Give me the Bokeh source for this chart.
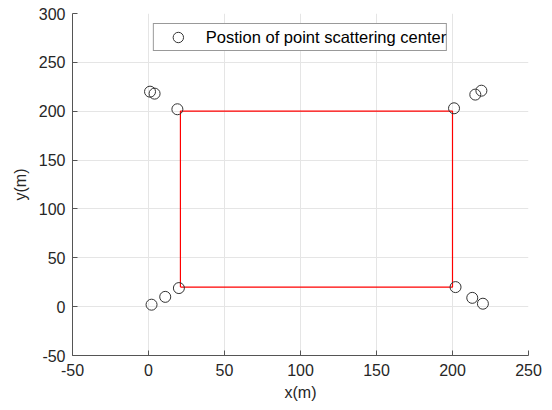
from bokeh.plotting import figure
from bokeh.models import Range1d, FixedTicker, Legend, LegendItem
from bokeh.embed import file_html
from bokeh.resources import INLINE

# Point scattering centers (m)
pts_x = [1, 4, 19, 201, 215, 219, 2, 11, 20, 202, 213, 220]
pts_y = [220, 218, 202, 203, 217, 221, 2, 10, 19, 20, 9, 3]

# Red rectangle outline (m)
rect_x = [21, 200, 200, 21, 21]
rect_y = [20, 20, 200, 200, 20]

x_ticks = [-50, 0, 50, 100, 150, 200, 250]
y_ticks = [-50, 0, 50, 100, 150, 200, 250, 300]

FONT = "Liberation Sans"
TXT = "#262626"

p = figure(width=552, height=410, output_backend="svg", toolbar_location=None,
           x_range=Range1d(-50, 250), y_range=Range1d(-50, 300),
           min_border_left=72, min_border_right=24, min_border_top=13, min_border_bottom=55)
p.outline_line_color = None
p.background_fill_color = "white"

p.line(rect_x, rect_y, line_color="#ff0000", line_width=1.2)
r = p.scatter(pts_x, pts_y, marker="circle", size=11, fill_color=None,
              line_color="#333333", line_width=1)

for ax, ticks in ((p.xaxis[0], x_ticks), (p.yaxis[0], y_ticks)):
    ax.ticker = FixedTicker(ticks=ticks)
    ax.major_label_overrides = {t: str(t) for t in ticks}
    ax.major_label_text_font = FONT
    ax.major_label_text_font_size = "16px"
    ax.major_label_text_color = TXT
    ax.axis_label_text_font = FONT
    ax.axis_label_text_font_size = "16px"
    ax.axis_label_text_font_style = "normal"
    ax.axis_label_text_color = TXT
    ax.axis_line_color = "#555555"
    ax.major_tick_line_color = "#555555"
    ax.major_tick_in = 5
    ax.major_tick_out = 0
    ax.minor_tick_line_color = None

p.xaxis.axis_label = "x(m)"
p.yaxis.axis_label = "y(m)"
p.xaxis.major_label_standoff = 8
p.xaxis.axis_label_standoff = 5
p.yaxis.major_label_standoff = 7
p.yaxis.axis_label_standoff = 7

p.xgrid.ticker = FixedTicker(ticks=x_ticks)
p.ygrid.ticker = FixedTicker(ticks=y_ticks)
p.grid.grid_line_color = "#e5e5e5"
p.grid.grid_line_width = 1

legend = Legend(items=[LegendItem(label="Postion of point scattering center", renderers=[r])],
                location="top_center", margin=10, padding=0, spacing=0,
                glyph_width=48, glyph_height=26, label_height=26, label_standoff=4,
                label_text_font=FONT, label_text_font_size="16.5px", label_text_color="#000000",
                border_line_color="#333333", border_line_width=1,
                background_fill_color="white", background_fill_alpha=1)
p.add_layout(legend, "center")

open("out.html", "w").write(file_html(p, INLINE))
